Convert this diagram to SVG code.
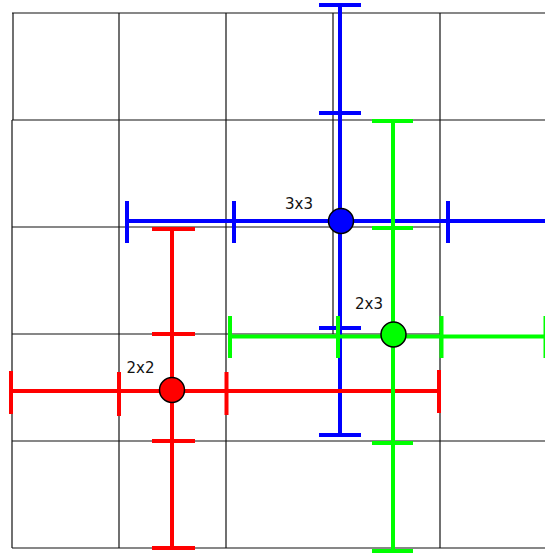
<svg xmlns="http://www.w3.org/2000/svg" width="545" height="554" viewBox="0 0 545 554">
<style>
.grid line{stroke:#111;stroke-width:1.2}
.b{stroke:#0000ff;stroke-width:4;fill:none}
.g{stroke:#00ff00;stroke-width:4;fill:none}
.r{stroke:#ff0000;stroke-width:4;fill:none}
.dot{stroke:#000;stroke-width:1.5}
.lbl{font-family:"DejaVu Sans",sans-serif;font-size:15px;fill:#111}
</style>
<rect width="545" height="554" fill="#fff"/>
<g id="grid" class="grid">
<line x1="12" y1="13" x2="545" y2="13"/>
<line x1="12" y1="120" x2="545" y2="120"/>
<line x1="12" y1="227" x2="440" y2="227"/>
<line x1="12" y1="334" x2="440" y2="334"/>
<line x1="12" y1="441" x2="545" y2="441"/>
<line x1="12" y1="548" x2="545" y2="548"/>
<line x1="13" y1="13" x2="13" y2="120"/>
<line x1="12" y1="120" x2="12" y2="548"/>
<line x1="119" y1="13" x2="119" y2="548"/>
<line x1="226" y1="13" x2="226" y2="548"/>
<line x1="333" y1="13" x2="333" y2="334"/>
<line x1="440" y1="13" x2="440" y2="548"/>
</g>
<g id="connectors">
<g id="kernel-3x3" class="b">
<line x1="340" y1="5" x2="340" y2="435"/>
<line x1="319" y1="5" x2="361" y2="5"/>
<line x1="319" y1="113" x2="361" y2="113"/>
<line x1="319" y1="328" x2="361" y2="328"/>
<line x1="319" y1="435" x2="361" y2="435"/>
<line x1="127" y1="221" x2="545" y2="221"/>
<line x1="127" y1="201" x2="127" y2="243"/>
<line x1="234" y1="201" x2="234" y2="243"/>
<line x1="448" y1="201" x2="448" y2="243"/>
</g>
<g id="kernel-2x2" class="r">
<line x1="172" y1="229" x2="172" y2="548"/>
<line x1="152" y1="229" x2="195" y2="229"/>
<line x1="152" y1="334" x2="195" y2="334"/>
<line x1="152" y1="441" x2="195" y2="441"/>
<line x1="152" y1="548" x2="195" y2="548"/>
<line x1="11" y1="391" x2="439" y2="391"/>
<line x1="11" y1="371" x2="11" y2="414"/>
<line x1="119" y1="372" x2="119" y2="416"/>
<line x1="226.5" y1="372" x2="226.5" y2="415"/>
<line x1="439" y1="370" x2="439" y2="413"/>
</g>
<g id="kernel-2x3" class="g">
<line x1="393" y1="121" x2="393" y2="551"/>
<line x1="372" y1="121" x2="413" y2="121"/>
<line x1="372" y1="228" x2="413" y2="228"/>
<line x1="372" y1="443" x2="413" y2="443"/>
<line x1="372" y1="551" x2="413" y2="551"/>
<line x1="230" y1="336.5" x2="545" y2="336.5"/>
<line x1="230" y1="316" x2="230" y2="358"/>
<line x1="338" y1="316" x2="338" y2="358"/>
<line x1="441.5" y1="316" x2="441.5" y2="358"/>
<line x1="545.5" y1="316" x2="545.5" y2="358"/>
</g>
</g>
<g id="node-3x3">
<circle class="dot" cx="341" cy="221" r="12.5" fill="#0000ff"/>
<text class="lbl" x="285" y="209">3x3</text>
</g>
<g id="node-2x3">
<circle class="dot" cx="393.5" cy="334.5" r="12.5" fill="#00ff00"/>
<text class="lbl" x="355" y="309">2x3</text>
</g>
<g id="node-2x2">
<circle class="dot" cx="172" cy="390" r="12.5" fill="#ff0000"/>
<text class="lbl" x="126.5" y="372.5">2x2</text>
</g>
</svg>
